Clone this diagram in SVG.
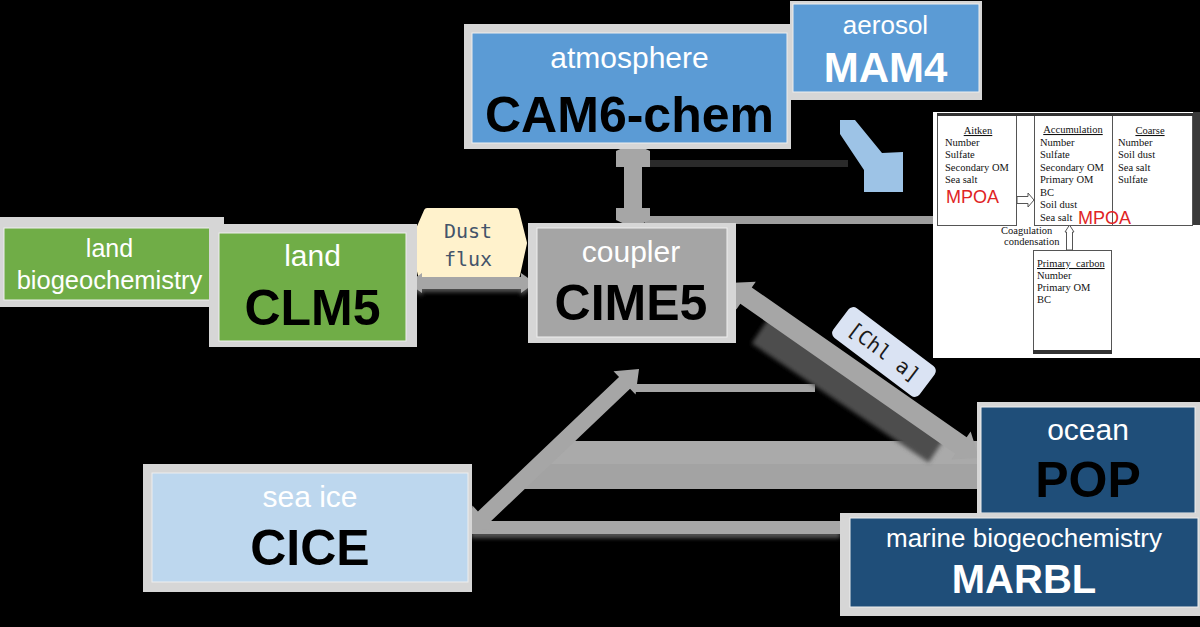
<svg xmlns="http://www.w3.org/2000/svg" width="1200" height="627" viewBox="0 0 1200 627">
  <defs>
    <filter id="soft" x="-20%" y="-50%" width="140%" height="200%">
      <feGaussianBlur stdDeviation="2"/>
    </filter>
    <style>
      .frame{fill:#d6d6d6}
      .inner{stroke:#eeeeee;stroke-width:1}
      .sub{font-family:"Liberation Sans",Arial,sans-serif;fill:#ffffff;text-anchor:middle}
      .main{font-family:"Liberation Sans",Arial,sans-serif;font-weight:bold;text-anchor:middle}
      .arrow{fill:#a6a6a6}
      .trace{fill:#a6a6a6}
      .mono{font-family:"DejaVu Sans Mono","Liberation Mono",monospace}
      .inset{font-family:"Liberation Serif","Times New Roman",serif;font-size:10.5px;fill:#111111}
      .ttl{text-decoration:underline;text-anchor:middle}
      .mpoa{font-family:"Liberation Sans",Arial,sans-serif;font-size:18px;fill:#e02424}
      .mbox{fill:#ffffff;stroke:#555555;stroke-width:1}
      .hollow{fill:#ffffff;stroke:#555555;stroke-width:1}
    </style>
  </defs>

  <rect x="0" y="0" width="1200" height="627" fill="#000000"/>

  <!-- connectors (grey double arrows and their traces) -->
  <g id="connectors">
    <rect x="643" y="160" width="205" height="7" fill="#2a2a2a"/>
    <rect x="645" y="216" width="292" height="8" fill="#9e9e9e"/>
    <rect x="636" y="384" width="179" height="8" class="trace"/>
    <polygon points="572,441 978,441 978,464 548,464" fill="#aaaaaa"/>
    <polygon points="548,464 978,464 978,489 522,489" fill="#a3a3a3"/>
    <rect x="471" y="531" width="369" height="7" fill="#555555" filter="url(#soft)"/>
    <rect x="471" y="521" width="369" height="13" class="trace"/>

    <!-- atmosphere <-> coupler -->
    <polygon class="arrow" points="633,143 650,151 650,167 642,167 642,208 650,208 650,220 633,228 616,220 616,208 624,208 624,167 616,167 616,151"/>

    <!-- land <-> coupler, shadow -->
    <g transform="translate(408,283)">
      <polygon points="0,3 14,-7 14,-3 113,-3 113,-7 127,3 113,13 113,9 14,9 14,13" fill="#555555" filter="url(#soft)"/>
    </g>

    <!-- sea ice <-> coupler -->
    <g transform="translate(469,531) rotate(-43.6)">
      <polygon class="arrow" points="0,0 20,-16 20,-8 214.8,-8 214.8,-16 234.8,0 214.8,16 214.8,8 20,8 20,16"/>
    </g>

    <!-- coupler <-> ocean -->
    <line x1="760" y1="331" x2="937" y2="450" stroke="#4d4d4d" stroke-width="30" filter="url(#soft)"/>
    <g transform="translate(728,283) rotate(34.9)">
      <polygon class="arrow" points="0,0 22,-17 22,-10 284,-10 284,-17 306,0 284,17 284,10 22,10 22,17"/>
    </g>

    <!-- aerosol detail pointer -->
    <polygon points="840,120 855,120 882,153 903,152 903,192 864,192 864,170 840,134" fill="#9dc3e6"/>
  </g>

  <!-- edge label: dust flux -->
  <g id="label-dust-flux">
    <polygon points="427,211 516,211 524,243 517,275 421,275 413,243" fill="#fff2cc" stroke="#fff2cc" stroke-width="6" stroke-linejoin="round"/>
    <text class="mono" x="468" y="238" font-size="20" fill="#44546a" text-anchor="middle">Dust</text>
    <text class="mono" x="468" y="266" font-size="20" fill="#44546a" text-anchor="middle">flux</text>
  </g>

  <!-- land <-> coupler arrow, drawn over the dust flux label -->
  <g id="connector-land-coupler" transform="translate(408,283)">
    <polygon class="arrow" points="0,0 14,-10 14,-6 113,-6 113,-10 127,0 113,10 113,6 14,6 14,10"/>
  </g>

  <!-- edge label: chlorophyll -->
  <g id="label-chl-a" transform="translate(884,352) rotate(37)">
    <rect x="-54" y="-18.5" width="108" height="37" rx="6" fill="#dae3f3"/>
    <text class="mono" x="0" y="7" font-size="20" fill="#1a1a1a" text-anchor="middle">[Chl a]</text>
  </g>

  <!-- atmosphere -->
  <g id="node-cam6">
    <rect class="frame" x="464" y="24" width="327" height="125"/>
    <rect class="inner" x="472" y="33" width="315" height="110" fill="#5b9bd5"/>
    <text class="sub" x="629.5" y="68" font-size="30">atmosphere</text>
    <text class="main" x="629.5" y="132" font-size="50" fill="#000000">CAM6-chem</text>
  </g>

  <!-- aerosol -->
  <g id="node-mam4">
    <rect class="frame" x="790" y="1" width="192" height="99"/>
    <rect class="inner" x="793" y="4" width="186" height="88" fill="#5b9bd5"/>
    <text class="sub" x="885.5" y="34" font-size="26">aerosol</text>
    <text class="main" x="885.5" y="82" font-size="42" fill="#ffffff">MAM4</text>
  </g>

  <!-- land biogeochemistry -->
  <g id="node-land-bgc">
    <rect class="frame" x="0" y="217" width="224" height="90"/>
    <rect class="inner" x="4" y="228" width="212" height="72" fill="#70ad47"/>
    <text class="sub" x="109.5" y="257" font-size="25">land</text>
    <text class="sub" x="109.5" y="289" font-size="25.5">biogeochemistry</text>
  </g>

  <!-- land -->
  <g id="node-clm5">
    <rect class="frame" x="209" y="224" width="208" height="123"/>
    <rect class="inner" x="219" y="233" width="187" height="108" fill="#70ad47"/>
    <text class="sub" x="312.5" y="266" font-size="30">land</text>
    <text class="main" x="312.5" y="325" font-size="50" fill="#000000">CLM5</text>
  </g>

  <!-- coupler -->
  <g id="node-cime5">
    <rect class="frame" x="528" y="223" width="208" height="120"/>
    <rect class="inner" x="537" y="228" width="190" height="109" fill="#a5a5a5"/>
    <text class="sub" x="631" y="262" font-size="30">coupler</text>
    <text class="main" x="631" y="320" font-size="50" fill="#000000">CIME5</text>
  </g>

  <!-- sea ice -->
  <g id="node-cice">
    <rect class="frame" x="143" y="464" width="329" height="128"/>
    <rect class="inner" x="152" y="473" width="316" height="109" fill="#bdd7ee"/>
    <text class="sub" x="310" y="507" font-size="30">sea ice</text>
    <text class="main" x="310" y="565" font-size="50" fill="#000000">CICE</text>
  </g>

  <!-- ocean -->
  <g id="node-pop">
    <rect class="frame" x="977" y="402" width="223" height="114"/>
    <rect class="inner" x="981" y="407" width="214" height="106" fill="#1f4e79"/>
    <text class="sub" x="1088" y="440" font-size="30">ocean</text>
    <text class="main" x="1088" y="497" font-size="50" fill="#000000">POP</text>
  </g>

  <!-- marine biogeochemistry -->
  <g id="node-marbl">
    <rect class="frame" x="840" y="513" width="360" height="103"/>
    <rect class="inner" x="850" y="518" width="348" height="89" fill="#1f4e79"/>
    <text class="sub" x="1024" y="547" font-size="26">marine biogeochemistry</text>
    <text class="main" x="1024" y="593" font-size="40" fill="#ffffff">MARBL</text>
  </g>

  <!-- MAM4 aerosol modes -->
  <g id="node-mam4-modes">
    <rect x="933" y="112" width="267" height="246" fill="#ffffff"/>
    <rect x="1193" y="112" width="7" height="113" fill="#3a3a3a"/>
    <rect class="mbox" x="937.5" y="115.5" width="79" height="110"/>
    <rect class="mbox" x="1034.5" y="115.5" width="78" height="110"/>
    <rect class="mbox" x="1112.5" y="115.5" width="80" height="110"/>
    <rect x="937" y="113" width="256" height="3" fill="#333333"/>
    <rect class="mbox" x="1033.5" y="250.5" width="78" height="101"/>
    <rect x="1033" y="350" width="79" height="4" fill="#333333"/>

    <text class="inset ttl" x="978" y="134">Aitken</text>
    <text class="inset" x="945" y="146">Number</text>
    <text class="inset" x="945" y="158">Sulfate</text>
    <text class="inset" x="945" y="171">Secondary OM</text>
    <text class="inset" x="945" y="183">Sea salt</text>
    <text class="mpoa" x="946" y="203">MPOA</text>

    <text class="inset ttl" x="1073" y="133">Accumulation</text>
    <text class="inset" x="1040" y="146">Number</text>
    <text class="inset" x="1040" y="158">Sulfate</text>
    <text class="inset" x="1040" y="171">Secondary OM</text>
    <text class="inset" x="1040" y="183">Primary OM</text>
    <text class="inset" x="1040" y="196">BC</text>
    <text class="inset" x="1040" y="208">Soil dust</text>
    <text class="inset" x="1040" y="221">Sea salt</text>
    <text class="mpoa" x="1078" y="224">MPOA</text>

    <text class="inset ttl" x="1150" y="134">Coarse</text>
    <text class="inset" x="1118" y="146">Number</text>
    <text class="inset" x="1118" y="158">Soil dust</text>
    <text class="inset" x="1118" y="171">Sea salt</text>
    <text class="inset" x="1118" y="183">Sulfate</text>

    <polygon class="hollow" points="1017,196.5 1028,196.5 1028,193 1034,200 1028,207 1028,203.5 1017,203.5"/>
    <polygon class="hollow" points="1066.5,250 1066.5,232 1065,232 1069.5,225 1074,232 1072.5,232 1072.5,250"/>
    <text class="inset" x="1001" y="234" font-size="9.8">Coagulation</text>
    <text class="inset" x="1004" y="245" font-size="9.8">condensation</text>

    <text class="inset" x="1037" y="267" text-decoration="underline" xml:space="preserve">Primary  carbon</text>
    <text class="inset" x="1037" y="279">Number</text>
    <text class="inset" x="1037" y="291">Primary OM</text>
    <text class="inset" x="1037" y="303">BC</text>
  </g>
</svg>
